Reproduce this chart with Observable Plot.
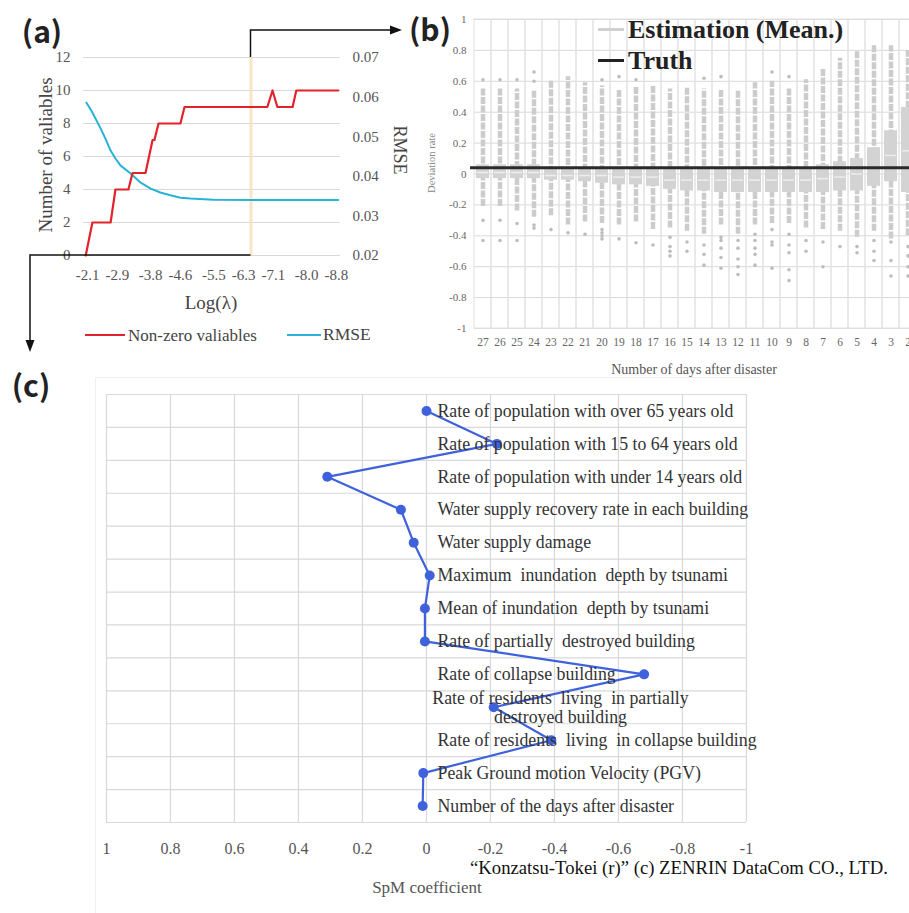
<!DOCTYPE html>
<html><head><meta charset="utf-8">
<script src="https://cdn.jsdelivr.net/npm/d3@7"></script>
<script src="https://cdn.jsdelivr.net/npm/@observablehq/plot@0.6"></script>
<style>
html,body{margin:0;padding:0;background:#fff;}
#fig{position:relative;width:909px;height:913px;overflow:hidden;background:#fff;font-family:"Liberation Serif","Times New Roman",serif;}
#fig svg, #fig svg g, #fig svg text{font-family:"Liberation Serif","Times New Roman",serif !important;}
.t{position:absolute;white-space:nowrap;line-height:1;transform:translate(-50%,-50%);}
.tl{position:absolute;white-space:nowrap;line-height:1;transform:translate(0,-50%);}
</style></head><body><div id="fig"></div>
<script>
// ---------- Panel (a) data ----------
const aNzLogLambda = [-2.05,-2.23,-2.72,-2.85,-3.20,-3.31,-3.66,-3.85,-3.90,-4.01,-4.60,-4.71,-6.94,-7.08,-7.21,-7.62,-7.72,-8.85];
const aNzCount     = [0,2,2,4,4,5,5,7,7,8,8,9,9,10,9,9,10,10];
const aRmseLogLambda = [-2.07,-2.23,-2.45,-2.58,-2.72,-2.85,-2.99,-3.26,-3.53,-3.80,-4.06,-4.33,-4.60,-4.87,-5.49,-6.76,-8.85];
const aRmse          = [0.0586,0.0561,0.0521,0.0495,0.0465,0.0445,0.0427,0.0407,0.0384,0.0369,0.0359,0.0352,0.0346,0.0344,0.0341,0.0340,0.0340];
const aXTicks = [-2.1,-2.9,-3.8,-4.6,-5.5,-6.3,-7.1,-8.0,-8.8];
const aLeftTicks = [0,2,4,6,8,10,12];
const aRightTicks = [0.02,0.03,0.04,0.05,0.06,0.07];
const aSelectedLogLambda = -6.5;

// ---------- Panel (b) data ----------
const bDays = [27,26,25,24,23,22,21,20,19,18,17,16,15,14,13,12,11,10,9,8,7,6,5,4,3,2];
const bQ1 = [-0.03,-0.03,-0.03,-0.03,-0.04,-0.04,-0.05,-0.06,-0.07,-0.07,-0.08,-0.10,-0.11,-0.11,-0.12,-0.12,-0.12,-0.12,-0.12,-0.12,-0.12,-0.11,-0.11,-0.08,-0.05,-0.12];
const bQ3 = [0.06,0.06,0.06,0.06,0.035,0.035,0.035,0.035,0.035,0.035,0.035,0.035,0.035,0.035,0.035,0.035,0.035,0.035,0.035,0.035,0.06,0.08,0.10,0.17,0.28,0.43];
const bWhiskerLow  = [-0.21,-0.21,-0.24,-0.28,-0.27,-0.33,-0.31,-0.32,-0.33,-0.31,-0.36,-0.35,-0.37,-0.39,-0.33,-0.39,-0.33,-0.32,-0.32,-0.35,-0.36,-0.37,-0.41,-0.37,-0.42,-0.40];
const bWhiskerHigh = [0.55,0.55,0.55,0.54,0.61,0.63,0.59,0.57,0.55,0.57,0.57,0.55,0.56,0.55,0.54,0.54,0.59,0.60,0.55,0.61,0.68,0.75,0.80,0.83,0.83,0.80];
const bMean = [0.01,0.01,0.01,0.01,-0.01,-0.01,-0.01,-0.01,-0.02,-0.02,-0.02,-0.04,-0.04,-0.04,-0.04,-0.04,-0.04,-0.04,-0.04,-0.04,-0.03,-0.02,0.0,0.04,0.12,0.15];
const bOutliers = [[0.61,-0.30,-0.43],[0.61,-0.30,-0.43],[0.61,-0.32,-0.43],[0.66,0.60,-0.33,-0.35],[-0.36],[-0.38],[-0.39],[0.61,-0.36,-0.38,-0.40,-0.42],[0.63,-0.42],[0.61,-0.445],[-0.46],[-0.41,-0.47,-0.50,-0.53],[-0.44,-0.50],[0.62,-0.46,-0.52,-0.59],[0.63,-0.41,-0.43,-0.48,-0.54,-0.61],[-0.43,-0.48,-0.55,-0.60,-0.65],[-0.39,-0.43,-0.48,-0.52,-0.59],[0.66,-0.36,-0.44,-0.46,-0.61],[0.63,-0.39,-0.46,-0.51,-0.62,-0.69],[-0.43,-0.50],[-0.44,-0.60],[-0.47],[-0.47,-0.51],[-0.43,-0.50,-0.56],[-0.44,-0.56,-0.66],[-0.47,-0.53,-0.60,-0.66]];
const bTruth = 0.04;
const bYTicks = [-1,-0.8,-0.6,-0.4,-0.2,0,0.2,0.4,0.6,0.8,1];

// ---------- Panel (c) data ----------
const cLabels = [
  "Rate of population with over 65 years old",
  "Rate of population with 15 to 64 years old",
  "Rate of population with under 14 years old",
  "Water supply recovery rate in each building",
  "Water supply damage",
  "Maximum  inundation  depth by tsunami",
  "Mean of inundation  depth by tsunami",
  "Rate of partially  destroyed building",
  "Rate of collapse building",
  "Rate of residents  living  in partially\ndestroyed building",
  "Rate of residents  living  in collapse building",
  "Peak Ground motion Velocity (PGV)",
  "Number of the days after disaster"
];
const cCoef = [0.00,-0.22,0.31,0.08,0.04,-0.01,0.005,0.005,-0.68,-0.21,-0.39,0.01,0.012];
const cXTicks = [1,0.8,0.6,0.4,0.2,0,-0.2,-0.4,-0.6,-0.8,-1];

// ---------- helpers ----------
const fig = document.getElementById("fig");
const SERIF = "Liberation Serif, Times New Roman, serif";
function place(el, left, top){
  el.style.position="absolute"; el.style.left=left+"px"; el.style.top=top+"px";
  el.setAttribute("font-family", SERIF);
  el.querySelectorAll("g, text").forEach(n => { if (n.hasAttribute("font-family")) n.setAttribute("font-family", SERIF); });
  fig.appendChild(el); return el;
}
function txt(s, cx, cy, css, cls){ const d=document.createElement("div"); d.className=cls||"t"; d.textContent=s; d.style.left=cx+"px"; d.style.top=cy+"px"; Object.assign(d.style, css||{}); fig.appendChild(d); return d; }
const fmt = d => String(Math.round(d*100)/100);

// ---------- Panel (a) ----------
const rmseToY = r => (r - 0.02) / 0.05 * 12;
const yToRmse = y => 0.02 + y / 12 * 0.05;
const aNz = aNzLogLambda.map((x,i)=>({x, y:aNzCount[i]}));
const aRm = aRmseLogLambda.map((x,i)=>({x, y:rmseToY(aRmse[i])}));
const plotA = Plot.plot({
  width: 400, height: 300,
  marginLeft: 83, marginRight: 60, marginTop: 57, marginBottom: 45,
  x: {domain: [-1.99, -8.91]},
  y: {domain: [0, 12]},
  style: {background:"transparent", color:"#555", overflow:"visible"},
  marks: [
    Plot.gridY(aLeftTicks, {stroke:"#d9d9d9", strokeOpacity:1}),
    Plot.ruleX([aSelectedLogLambda], {stroke:"#f9dfb8", strokeWidth:3, strokeOpacity:0.8}),
    Plot.line(aRm, {x:"x", y:"y", stroke:"#27b3d6", strokeWidth:2}),
    Plot.line(aNz, {x:"x", y:"y", stroke:"#e3232b", strokeWidth:2.2}),
    Plot.axisY(aLeftTicks, {anchor:"left", tickSize:0, tickPadding:13, fontSize:15, label:null}),
    Plot.axisY(aRightTicks.map(rmseToY), {anchor:"right", tickSize:0, tickPadding:12, fontSize:15, label:null, tickFormat: y => yToRmse(y).toFixed(2)}),
    Plot.axisX(aXTicks, {anchor:"bottom", tickSize:0, tickPadding:14, fontSize:15, label:null, tickFormat: d => d.toFixed(1)})
  ]
});
place(plotA, 0, 0);

// ---------- Panel (b) ----------
const bRows = bDays.map((d,i)=>({day:d, q1:bQ1[i], q3:bQ3[i], lo:bWhiskerLow[i], hi:bWhiskerHigh[i], mean:bMean[i]}));
const bOut = bDays.flatMap((d,i)=>bOutliers[i].map(v=>({day:d, v})));
const plotB = Plot.plot({
  width: 516, height: 380,
  marginLeft: 74, marginRight: 0, marginTop: 19, marginBottom: 52,
  x: {type:"band", domain: bDays, padding: 0},
  y: {domain: [-1, 1]},
  style: {background:"transparent", color:"#666", overflow:"visible"},
  marks: [
    Plot.gridY(bYTicks, {stroke:"#d9d9d9", strokeOpacity:1}),
    Plot.barY(bDays, {x: d=>d, y1:-1, y2:1, fill:"none", stroke:"#e2e2e2", strokeWidth:1}),
    Plot.ruleX(bRows, {x:"day", y1:"lo", y2:"hi", stroke:"#cccccc", strokeWidth:4.5, strokeDasharray:"7,1.5"}),
    Plot.barY(bRows, {x:"day", y1:"q1", y2:"q3", fill:"#d3d3d3", insetLeft:2, insetRight:2}),
    Plot.tickY(bRows, {x:"day", y:"mean", stroke:"#ededed", strokeWidth:1.5, insetLeft:3, insetRight:3}),
    Plot.dot(bOut, {x:"day", y:"v", r:1.8, fill:"#bdbdbd"}),
    Plot.ruleY([bTruth], {stroke:"#2a2a2a", strokeWidth:3, insetLeft:-4}),
    Plot.axisY(bYTicks, {anchor:"left", tickSize:0, tickPadding:8, fontSize:11, label:null, tickFormat: fmt}),
    Plot.axisX({anchor:"bottom", tickSize:0, tickPadding:9, fontSize:11.5, label:null})
  ]
});
place(plotB, 400, 0);

// ---------- Panel (c) ----------
const cRows = cLabels.map((label,i)=>({label, coef:cCoef[i], row:i+0.5}));
const cSingle = cRows.filter(d=>!d.label.includes("\n"));
const cMulti = cRows.filter(d=>d.label.includes("\n"));
const plotC = Plot.plot({
  width: 909, height: 533,
  marginLeft: 106, marginRight: 163, marginTop: 14, marginBottom: 91,
  x: {domain: [1, -1]},
  y: {domain: [0, cLabels.length], reverse: true, axis: null},
  style: {background:"transparent", color:"#555", overflow:"visible"},
  marks: [
    Plot.ruleY(d3.range(cLabels.length + 1), {stroke:"#d9d9d9", strokeWidth:1.2}),
    Plot.ruleX(cXTicks, {stroke:"#d9d9d9", strokeWidth:1.2}),
    Plot.line(cRows, {x:"coef", y:"row", stroke:"#3f62dc", strokeWidth:2.2}),
    Plot.dot(cRows, {x:"coef", y:"row", r:5, fill:"#3f62dc"}),
    Plot.text(cSingle, {x:0, y:"row", text:"label", textAnchor:"start", dx:11, fontSize:17.8, fill:"#333"}),
    Plot.text(cMulti, {x:0, y:"row", text:"label", textAnchor:"middle", dx:134, dy:0, lineHeight:1.1, fontSize:17.8, fill:"#333"}),
    Plot.axisX(cXTicks, {anchor:"bottom", tickSize:0, tickPadding:20, fontSize:16, label:null, tickFormat: fmt})
  ]
});
place(plotC, 0, 380);

// ---------- texts ----------
const PANEL = {fontFamily:"Noto Sans CJK JP, Noto Sans, sans-serif", fontWeight:"600", fontSize:"30px", color:"#222"};
txt("(a)", 42, 30, PANEL);
txt("(b)", 430, 28, PANEL);
txt("(c)", 31, 384, PANEL);

txt("Number of valiables", 45, 155, {fontSize:"19px", color:"#444", transform:"translate(-50%,-50%) rotate(-90deg)"});
txt("RMSE", 400, 150, {fontSize:"18px", color:"#444", transform:"translate(-50%,-50%) rotate(90deg)"});
txt("Log(λ)", 211, 302, {fontSize:"19px", color:"#444"});

// legend (a)
function swatch(x1, x2, y, color, w){ const d=document.createElement("div"); d.style.position="absolute"; d.style.left=x1+"px"; d.style.top=(y-w/2)+"px"; d.style.width=(x2-x1)+"px"; d.style.height=w+"px"; d.style.background=color; fig.appendChild(d); }
swatch(85, 125, 335, "#e3232b", 2.5);
txt("Non-zero valiables", 128, 335, {fontSize:"17px", color:"#444"}, "tl");
swatch(287, 321, 335, "#27b3d6", 2.5);
txt("RMSE", 323, 335, {fontSize:"17.5px", color:"#444"}, "tl");

// (b) texts
txt("Deviation rate", 432, 163, {fontSize:"10.5px", color:"#888", transform:"translate(-50%,-50%) rotate(-90deg)"});
txt("Number of days after disaster", 694, 370, {fontSize:"14px", color:"#555"});
swatch(598, 624, 29, "#cfcfcf", 3);
txt("Estimation (Mean.)", 628, 30, {fontSize:"26px", fontWeight:"bold", color:"#222"}, "tl");
swatch(598, 624, 60, "#222", 3);
txt("Truth", 628, 61, {fontSize:"26px", fontWeight:"bold", color:"#222"}, "tl");

// (c) texts
txt("SpM coefficient", 427, 887, {fontSize:"17px", color:"#555"});
txt("\u201CKonzatsu-Tokei (r)\u201D (c) ZENRIN DataCom CO., LTD.", 470, 868, {fontSize:"18.7px", color:"#111"}, "tl");

// ---------- connector arrows (positioned from panel (a) scales) ----------
const xs = plotA.scale("x"), ys = plotA.scale("y");
const xSel = xs.apply(aSelectedLogLambda), yTop = ys.apply(12), yBot = ys.apply(0);
const ns = "http://www.w3.org/2000/svg";
const ov = document.createElementNS(ns, "svg");
ov.setAttribute("width", 909); ov.setAttribute("height", 913);
ov.style.position="absolute"; ov.style.left="0"; ov.style.top="0"; ov.style.pointerEvents="none";
ov.innerHTML =
  `<path d="M95.5,913 V377.5 H760" fill="none" stroke="#f0f0f0"/>` +
  `<path d="M${xSel},${yTop} V30 H392" fill="none" stroke="#111" stroke-width="1.5"/>` +
  `<path d="M390,25.5 L402,30 L390,34.5 Z" fill="#111"/>` +
  `<path d="M${xSel},${yBot} H30 V342" fill="none" stroke="#111" stroke-width="1.5"/>` +
  `<path d="M25.5,340 L30,352 L34.5,340 Z" fill="#111"/>`;
fig.appendChild(ov);
</script></body></html>
